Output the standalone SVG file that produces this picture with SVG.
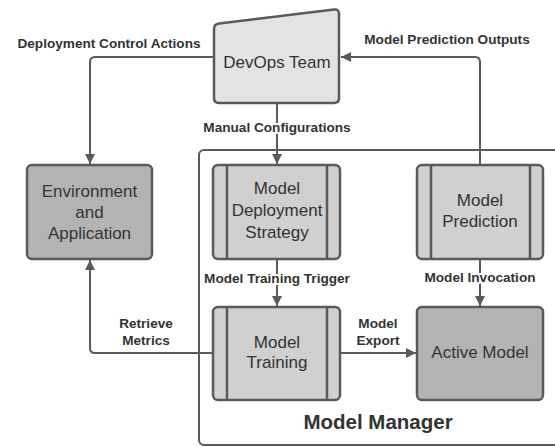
<svg xmlns="http://www.w3.org/2000/svg" width="555" height="447" viewBox="0 0 555 447">
<style>
.box{stroke:#5a5a5a;stroke-width:2.5}
.light{fill:#e3e3e3}
.mid{fill:#d0d0d0}
.dark{fill:#b3b3b3}
.stripe{stroke:#5a5a5a;stroke-width:2.5;fill:none}
.t{font-family:"Liberation Sans",Arial,sans-serif;font-size:17px;fill:#333333;text-anchor:middle}
.lbl{font-family:"Liberation Sans",Arial,sans-serif;font-size:13.6px;font-weight:bold;fill:#333333;text-anchor:middle;stroke:#ffffff;stroke-width:4;paint-order:stroke;stroke-linejoin:round}
.title{font-family:"Liberation Sans",Arial,sans-serif;font-size:20.5px;font-weight:bold;fill:#333333;text-anchor:middle}
.c{fill:none;stroke:#5a5a5a;stroke-width:2}
</style>
<defs>
<marker id="ah" viewBox="0 0 10 10" refX="10" refY="5" markerWidth="11" markerHeight="10" markerUnits="userSpaceOnUse" orient="auto">
<path d="M0,0 L10,5 L0,10 Z" fill="#5a5a5a"/>
</marker>
</defs>
<rect width="555" height="447" fill="#ffffff"/>
<g id="model-manager">
<rect x="199" y="150" width="380" height="295" rx="5" fill="none" stroke="#5a5a5a" stroke-width="2"/>
<text class="title" x="378" y="429">Model Manager</text>
</g>
<g id="connectors">
<path class="c" d="M214,57 L95,57 Q90,57 90,62 L90,164" marker-end="url(#ah)"/>
<path class="c" d="M480,165 L480,62 Q480,57 475,57 L341,57" marker-end="url(#ah)"/>
<path class="c" d="M277,103 L277,164" marker-end="url(#ah)"/>
<path class="c" d="M277,259 L277,306" marker-end="url(#ah)"/>
<path class="c" d="M480,259 L480,306" marker-end="url(#ah)"/>
<path class="c" d="M340,353 L416,353" marker-end="url(#ah)"/>
<path class="c" d="M213,353 L95,353 Q90,353 90,348 L90,260" marker-end="url(#ah)"/>
<text class="lbl" x="109" y="47.5">Deployment Control Actions</text>
<text class="lbl" x="447" y="43.5">Model Prediction Outputs</text>
<text class="lbl" x="277" y="131.5">Manual Configurations</text>
<text class="lbl" x="277" y="282.5">Model Training Trigger</text>
<text class="lbl" x="480" y="281.5">Model Invocation</text>
<text class="lbl" x="378" y="327.5">Model</text>
<text class="lbl" x="378" y="344.5">Export</text>
<text class="lbl" x="146" y="327.5">Retrieve</text>
<text class="lbl" x="146" y="344.5">Metrics</text>
</g>
<g id="devops-team">
<path class="box light" d="M214,29 Q214,24 219,23.4 L334,9.6 Q339,9 339,14 L339,98 Q339,103 334,103 L219,103 Q214,103 214,98 Z"/>
<text class="t" x="277" y="68">DevOps Team</text>
</g>
<g id="environment-application">
<rect class="box dark" x="27" y="165" width="125" height="94" rx="5"/>
<text class="t" x="89.5" y="197">Environment</text>
<text class="t" x="89.5" y="218">and</text>
<text class="t" x="89.5" y="239">Application</text>
</g>
<g id="model-deployment-strategy">
<rect class="box mid" x="213" y="165" width="127" height="94" rx="5"/>
<line class="stripe" x1="227" y1="165" x2="227" y2="259"/>
<line class="stripe" x1="327" y1="165" x2="327" y2="259"/>
<text class="t" x="277" y="194">Model</text>
<text class="t" x="277" y="216">Deployment</text>
<text class="t" x="277" y="238">Strategy</text>
</g>
<g id="model-prediction">
<rect class="box mid" x="417" y="165" width="126" height="94" rx="5"/>
<line class="stripe" x1="431" y1="165" x2="431" y2="259"/>
<line class="stripe" x1="530" y1="165" x2="530" y2="259"/>
<text class="t" x="480" y="206">Model</text>
<text class="t" x="480" y="227">Prediction</text>
</g>
<g id="model-training">
<rect class="box mid" x="213" y="307" width="127" height="93" rx="5"/>
<line class="stripe" x1="227" y1="307" x2="227" y2="400"/>
<line class="stripe" x1="327" y1="307" x2="327" y2="400"/>
<text class="t" x="277" y="348">Model</text>
<text class="t" x="277" y="368">Training</text>
</g>
<g id="active-model">
<rect class="box dark" x="417" y="307" width="126" height="93" rx="5"/>
<text class="t" x="480" y="358">Active Model</text>
</g>
</svg>
